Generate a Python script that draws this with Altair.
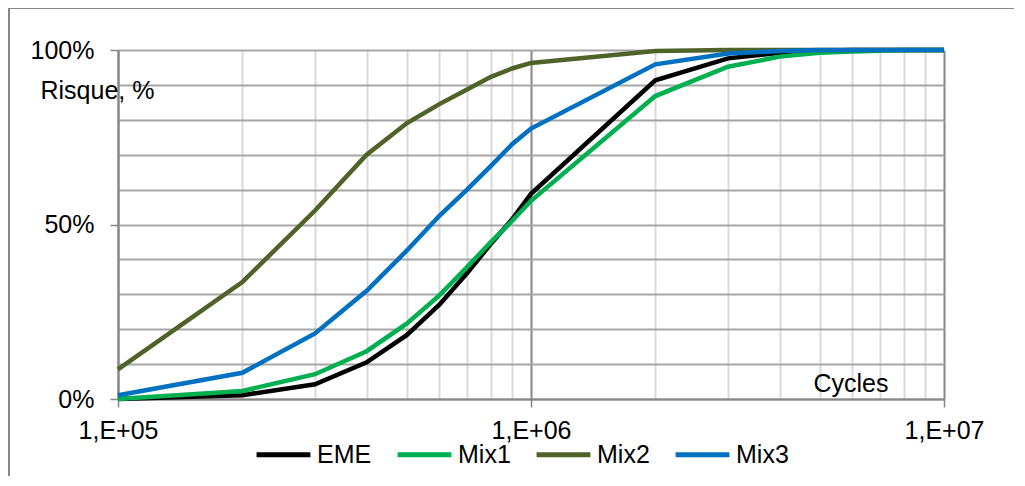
import altair as alt
import pandas as pd

cycles = [1e5, 2e5, 3e5, 4e5, 5e5, 6e5, 7e5, 8e5, 9e5,
          1e6, 2e6, 3e6, 4e6, 5e6, 6e6, 7e6, 8e6, 9e6, 1e7]
eme  = [0, 1.1, 4.2, 10.5, 18.3, 27.0, 36.0, 44.5, 51.5, 58.8, 91.3, 97.6, 99.2, 99.8, 100, 100, 100, 100, 100]
mix1 = [0, 2.3, 7.1, 13.7, 21.6, 29.7, 37.8, 45.0, 51.0, 56.8, 86.8, 95.2, 98.1, 99.2, 99.6, 99.8, 100, 100, 100]
mix2 = [8.5, 33.5, 54.0, 70.0, 79.0, 84.5, 88.7, 92.3, 94.7, 96.3, 99.7, 100, 100, 100, 100, 100, 100, 100, 100]
mix3 = [1.1, 7.5, 18.8, 31.0, 42.5, 52.5, 60.0, 66.8, 73.0, 77.5, 95.9, 99.0, 99.7, 100, 100, 100, 100, 100, 100]
series_names = ["EME", "Mix1", "Mix2", "Mix3"]
series_colors = ["#000000", "#00B050", "#4F6228", "#0070C0"]

x_grid = [m * 10 ** e for e in (5, 6) for m in range(1, 10)] + [1e7]
y_grid = list(range(0, 101, 10))

rows = []
for name, vals in zip(series_names, [eme, mix1, mix2, mix3]):
    for c, v in zip(cycles, vals):
        rows.append({"Cycles": c, "Risque": v, "Serie": name})
df = pd.DataFrame(rows)

FONT = "Liberation Sans"
major_x = "abs(log(datum.value)/LN10 - round(log(datum.value)/LN10)) < 0.001"

x_enc = alt.X(
    "Cycles:Q",
    scale=alt.Scale(type="log", domain=[1e5, 1e7], nice=False),
    axis=alt.Axis(
        values=x_grid,
        grid=True,
        gridColor={"condition": {"test": major_x, "value": "#868686"}, "value": "#d9d9d9"},
        gridWidth=2,
        tickColor="#868686",
        tickWidth=1.5,
        tickSize=8,
        tickOpacity={"condition": {"test": major_x, "value": 1}, "value": 0},
        domainColor="#868686",
        domainWidth=2,
        labelExpr="(" + major_x + ") ? '1,E+' + format(round(log(datum.value)/LN10), '02d') : ''",
        labelOverlap=False,
        labelFont=FONT,
        labelFontSize=25,
        labelColor="#000000",
        labelPadding=11,
        labelFlush=False,
        title="Cycles",
        titleFont=FONT,
        titleFontSize=25,
        titleFontWeight="normal",
        titleColor="#000000",
        titleAngle=0,
        titleAlign="left",
        titleBaseline="alphabetic",
        titleX=695,
        titleY=-8,
    ),
)

y_enc = alt.Y(
    "Risque:Q",
    scale=alt.Scale(domain=[0, 100], nice=False),
    axis=alt.Axis(
        values=y_grid,
        grid=True,
        gridColor="#a6a6a6",
        gridWidth=2,
        tickColor="#868686",
        tickWidth=1.5,
        tickSize=8,
        tickOpacity={"condition": {"test": "datum.value % 50 === 0", "value": 1}, "value": 0},
        domainColor="#868686",
        domainWidth=2,
        labelExpr="datum.value % 50 === 0 ? datum.value + '%' : ''",
        labelOverlap=False,
        labelFont=FONT,
        labelFontSize=25,
        labelColor="#000000",
        labelPadding=16,
        labelFlush=False,
        title="Risque, %",
        titleFont=FONT,
        titleFontSize=25,
        titleFontWeight="normal",
        titleColor="#000000",
        titleAngle=0,
        titleAlign="left",
        titleBaseline="alphabetic",
        titleX=-78,
        titleY=48,
    ),
)

lines = alt.Chart(df).mark_line(strokeWidth=4.5).encode(
    x=x_enc,
    y=y_enc,
    color=alt.Color(
        "Serie:N",
        scale=alt.Scale(domain=series_names, range=series_colors),
        legend=alt.Legend(
            title=None,
            orient="none",
            direction="horizontal",
            legendX=136,
            legendY=375,
            symbolType="stroke",
            symbolSize=2900,
            symbolStrokeWidth=5,
            labelFont=FONT,
            labelFontSize=25,
            labelColor="#000000",
            labelOffset=4,
            columnPadding=15,
            padding=0,
        ),
    ),
    order=alt.Order("Cycles:Q"),
)

frame_data = alt.Data(values=[{"k": 0}])
frame_left = alt.Chart(frame_data).mark_rule(color="#868686", strokeWidth=2).encode(
    x=alt.value(-109), y=alt.value(-42), y2=alt.value(600)
)
frame_top = alt.Chart(frame_data).mark_rule(color="#868686", strokeWidth=2).encode(
    y=alt.value(-42), x=alt.value(-110), x2=alt.value(1100)
)

chart = alt.layer(lines, frame_left, frame_top).properties(
    width=826,
    height=349,
    autosize=alt.AutoSizeParams(type="none"),
    padding={"left": 110, "top": 42, "right": 70, "bottom": 77},
).configure_view(stroke=None)

chart.save("out.html", embed_options={"renderer": "svg", "actions": False})
